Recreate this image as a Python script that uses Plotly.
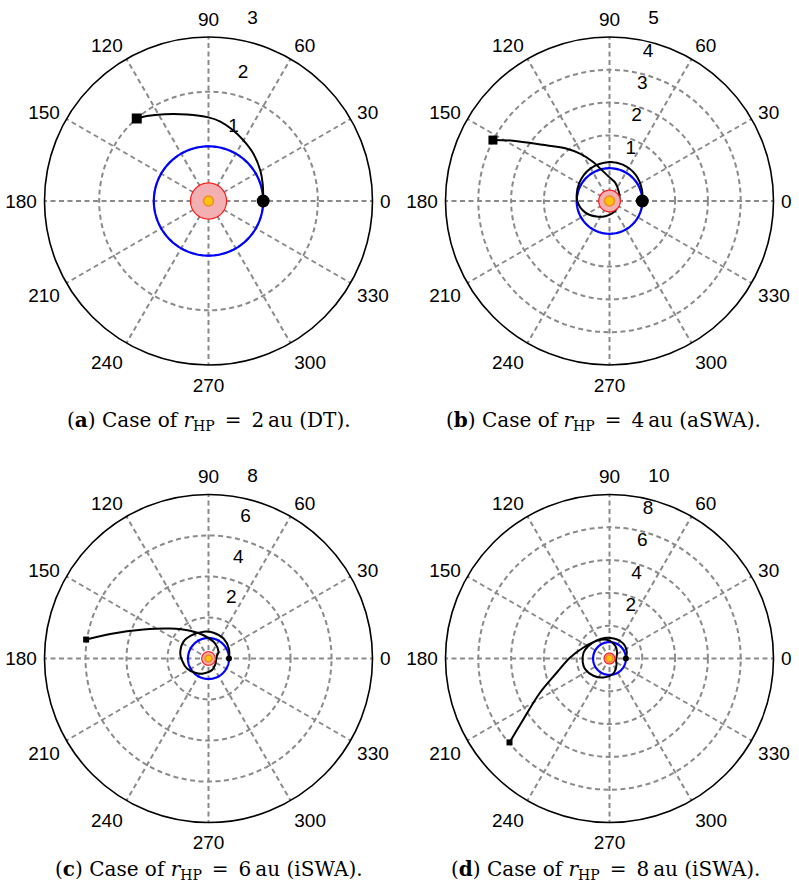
import numpy as np
import plotly.graph_objects as go

W, H = 799, 891

# ---- panel definitions -------------------------------------------------
panel_tags = ["a", "b", "c", "d"]
r_hp = [2, 4, 6, 8]
regime = ["DT", "aSWA", "iSWA", "iSWA"]
r_max = [3, 5, 8, 10]
r_grid = [[1, 2], [1, 2, 3, 4], [2, 4, 6], [2, 4, 6, 8]]
r_ticklabels = [[1, 2, 3], [1, 2, 3, 4, 5], [2, 4, 6, 8], [2, 4, 6, 8, 10]]
angle_ticks = list(range(0, 360, 30))

# ---- trajectories (polar angle in deg, unwrapped; radius in au) ----------
theta_a = [0, 17.6, 30.5, 46, 60, 72, 81.5, 90, 104, 117, 126, 131]
r_a = [1.0, 1.04, 1.10, 1.19, 1.28, 1.38, 1.47, 1.53, 1.63, 1.78, 1.92, 2.0]

theta_b = [0, 20, 45, 70, 90, 120, 150, 180, 205, 230, 255, 285, 315, 345,
           375, 405, 432, 450, 465, 473, 482, 490, 498.7, 508, 512.4]
r_b = [1.0, 1.05, 1.13, 1.18, 1.19, 1.15, 1.07, 0.98, 0.82, 0.62, 0.48, 0.38,
       0.32, 0.30, 0.32, 0.40, 0.58, 0.72, 1.0, 1.3, 1.7, 2.1, 2.57, 3.47, 4.01]

theta_c = [0, 25, 53, 79, 100, 125.5, 146, 170, 183.6, 204.8, 227, 251.6, 285,
           315, 345, 375, 394, 426, 462, 483.5, 502, 516, 526, 531.2]
r_c = [1.0, 1.1, 1.22, 1.28, 1.33, 1.40, 1.47, 1.40, 1.30, 1.16, 0.95, 0.77,
       0.6, 0.45, 0.38, 0.42, 0.59, 0.8, 1.16, 1.62, 2.37, 3.47, 4.94, 6.04]

theta_d = [0, 20, 39, 60, 78, 100, 125.6, 150, 167, 188.5, 203.7, 227, 252.5,
           284, 315, 345, 375, 400, 425, 458, 485.6, 517, 538.5, 554.9, 566.1,
           575.2, 580]
r_d = [1.0, 1.12, 1.22, 1.25, 1.25, 1.28, 1.35, 1.5, 1.62, 1.65, 1.62, 1.44,
       1.21, 0.95, 0.6, 0.42, 0.45, 0.6, 0.85, 1.15, 1.33, 1.72, 2.4, 3.32,
       4.71, 6.42, 7.96]

trajectories = [(theta_a, r_a), (theta_b, r_b), (theta_c, r_c), (theta_d, r_d)]

earth_orbit_r = 1.0
sun_zone_r = 0.33

# ---- layout helpers ----------------------------------------------------
centers_px = [(208.5, 201), (609.5, 201), (208.5, 658.5), (609.5, 658.5)]
radius_px = 164
caption_y_px = [421, 421, 870, 870]
caption_x_px = [208.5, 603, 208.5, 605]
dot_size = [13, 13, 6, 6]
square_size = [10, 9, 6, 6]
sun_size = [10, 10, 7, 7]

tick_font = dict(family="Liberation Sans, Arial", size=19, color="black")
grid_style = dict(showgrid=True, gridcolor="#8a8a8a", gridwidth=1.5,
                  griddash="5px,3.5px")

ring = np.linspace(0, 360, 241)

fig = go.Figure()
layout = dict(
    width=W, height=H, margin=dict(l=0, r=0, t=0, b=0),
    paper_bgcolor="white", plot_bgcolor="white", showlegend=False,
)

annotations = []
for i, tag in enumerate(panel_tags):
    pid = "polar" if i == 0 else f"polar{i + 1}"
    cx, cy = centers_px[i]
    dom_x = [(cx - radius_px) / W, (cx + radius_px) / W]
    dom_y = [(H - cy - radius_px) / H, (H - cy + radius_px) / H]
    layout[pid] = dict(
        domain=dict(x=dom_x, y=dom_y),
        bgcolor="white",
        radialaxis=dict(
            range=[0, r_max[i]], tickvals=r_grid[i], showticklabels=False,
            showline=False, ticks="", **grid_style,
        ),
        angularaxis=dict(
            rotation=0, direction="counterclockwise", tickmode="array",
            tickvals=angle_ticks, ticktext=[str(a) for a in angle_ticks],
            showline=True, linecolor="black", linewidth=1.6,
            ticks="outside", ticklen=3, tickcolor="rgba(0,0,0,0)",
            tickfont=tick_font, **grid_style,
        ),
    )

    th, rr = trajectories[i]

    # Earth orbit
    fig.add_trace(go.Scatterpolar(
        r=[earth_orbit_r] * len(ring), theta=ring, mode="lines",
        line=dict(color="#0000ff", width=2.2), subplot=pid, hoverinfo="skip"))
    # transfer trajectory
    fig.add_trace(go.Scatterpolar(
        r=rr, theta=th, mode="lines",
        line=dict(color="black", width=2, shape="spline", smoothing=1.0),
        subplot=pid))
    # keep-out zone around the Sun
    fig.add_trace(go.Scatterpolar(
        r=[sun_zone_r] * len(ring), theta=ring, mode="lines", fill="toself",
        fillcolor="#f3b0b2", line=dict(color="#ff1a1a", width=1.2),
        subplot=pid, hoverinfo="skip"))
    # Sun
    fig.add_trace(go.Scatterpolar(
        r=[0], theta=[0], mode="markers",
        marker=dict(symbol="circle", size=sun_size[i], color="#ffc20e",
                    line=dict(color="#f08a24", width=1.5)),
        subplot=pid))
    # departure point and arrival point
    fig.add_trace(go.Scatterpolar(
        r=[rr[0]], theta=[th[0]], mode="markers",
        marker=dict(symbol="circle", size=dot_size[i], color="black"),
        subplot=pid))
    fig.add_trace(go.Scatterpolar(
        r=[rr[-1]], theta=[th[-1]], mode="markers",
        marker=dict(symbol="square", size=square_size[i], color="black"),
        subplot=pid))
    # radial tick labels, set just outside each ring along the 80 deg spoke
    fig.add_trace(go.Scatterpolar(
        r=r_ticklabels[i], theta=[80] * len(r_ticklabels[i]),
        mode="markers+text", text=[str(v) for v in r_ticklabels[i]],
        textposition="top right", cliponaxis=False,
        marker=dict(size=15, color="rgba(0,0,0,0)"),
        textfont=tick_font, subplot=pid, hoverinfo="skip"))

    annotations.append(dict(
        x=caption_x_px[i] / W, y=(H - caption_y_px[i]) / H,
        xref="paper", yref="paper", xanchor="center", yanchor="middle",
        showarrow=False,
        text=(f"(<b>{tag}</b>) Case of <i>r</i><sub>HP</sub>\u2002=\u2002"
              f"{r_hp[i]}\u2009au ({regime[i]})."),
        font=dict(family="DejaVu Serif", size=20, color="black"),
    ))

layout["annotations"] = annotations
fig.update_layout(**layout)
fig.write_html("out.html")
